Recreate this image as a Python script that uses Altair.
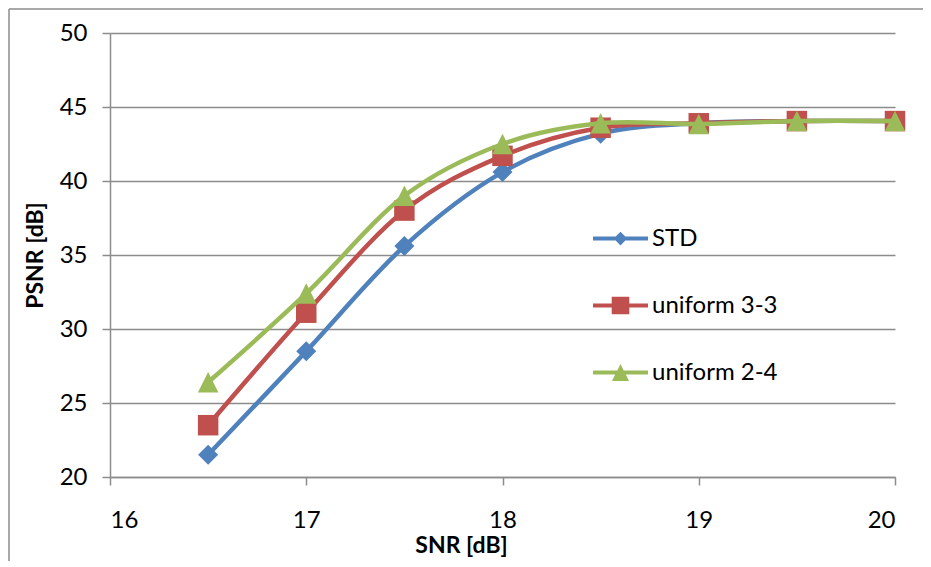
import altair as alt
import pandas as pd

# ---- data ----
snr = [16.5, 17, 17.5, 18, 18.5, 19, 19.5, 20]
std = [21.5, 28.5, 35.6, 40.6, 43.2, 43.9, 44.05, 44.05]
uniform_33 = [23.5, 31.1, 38.0, 41.7, 43.6, 43.9, 44.05, 44.05]
uniform_24 = [26.4, 32.4, 39.0, 42.5, 43.9, 43.85, 44.05, 44.05]
series_names = ["STD", "uniform 3-3", "uniform 2-4"]
x_ticks = [16, 17, 18, 19, 20]
y_ticks = [20, 25, 30, 35, 40, 45, 50]

# ---- styles ----
colors = ["#4F81BD", "#C0504D", "#9BBB59"]
marker_shapes = ["diamond", "square", "M0,-1L1,1L-1,1Z"]
marker_sizes = [400, 420, 420]
legend_shapes = [
    "M-1,-0.075L-0.175,-0.075L0,-0.25L0.175,-0.075L1,-0.075L1,0.075L0.175,0.075L0,0.25L-0.175,0.075L-1,0.075Z",
    "M-1,-0.075L-0.32,-0.075L-0.32,-0.32L0.32,-0.32L0.32,-0.075L1,-0.075L1,0.075L0.32,0.075L0.32,0.32L-0.32,0.32L-0.32,0.075L-1,0.075Z",
    "M-1,-0.075L-0.1175,-0.075L0,-0.31L0.1175,-0.075L1,-0.075L1,0.075L0.1925,0.075L0.31,0.31L-0.31,0.31L-0.1925,0.075L-1,0.075Z",
]
FONT = "Lato"
GRAY = "#8c8c8c"

rows = []
for name, vals in zip(series_names, [std, uniform_33, uniform_24]):
    for xv, yv in zip(snr, vals):
        rows.append({"series": name, "snr": xv, "psnr": yv})
df = pd.DataFrame(rows)

x_enc = alt.X(
    "snr:Q",
    scale=alt.Scale(domain=[16, 20], nice=False, zero=False),
    axis=alt.Axis(
        values=x_ticks, format="d", title="SNR [dB]", grid=False,
        labelPadding=23, titleX=351, titleY=68, titleBaseline="middle",
        titleAlign="center",
    ),
)
y_enc = alt.Y(
    "psnr:Q",
    scale=alt.Scale(domain=[20, 50], nice=False, zero=False),
    axis=alt.Axis(
        values=y_ticks, title="PSNR [dB]", grid=True, labelPadding=15,
        titleX=-75, titleY=222, titleAngle=270, titleBaseline="middle",
        titleAlign="center",
    ),
)

base = alt.Chart(df)

layers = []
for i, name in enumerate(series_names):
    sub = base.transform_filter(alt.datum.series == name)
    layers.append(
        sub.mark_line(color=colors[i], strokeWidth=4.5, interpolate="cardinal")
        .encode(x=x_enc, y=y_enc, order="snr:Q")
    )
    layers.append(
        sub.mark_point(filled=True, shape=marker_shapes[i], size=marker_sizes[i],
                       color=colors[i], opacity=1)
        .encode(x=x_enc, y=y_enc)
    )

leg = alt.Legend(
    title=None, orient="none", legendX=483, legendY=178,
    symbolSize=3025, symbolStrokeWidth=0, symbolOpacity=1,
    labelFont=FONT, labelFontSize=24,
    labelColor="black", labelOffset=4, rowPadding=27, padding=0, labelLimit=400,
)
legend_layer = base.transform_filter(alt.datum.snr > 1000).mark_point(
    filled=True, size=3025, opacity=1
).encode(
    x=x_enc, y=y_enc,
    color=alt.Color("series:N", scale=alt.Scale(domain=series_names, range=colors), legend=leg),
    shape=alt.Shape("series:N", scale=alt.Scale(domain=series_names, range=legend_shapes), legend=leg),
)

frame_df = pd.DataFrame({"k": [0]})
frame_left = alt.Chart(frame_df).mark_rule(color=GRAY, strokeWidth=1.5).encode(
    x=alt.value(-101), y=alt.value(-24), y2=alt.value(530)
)
frame_top = alt.Chart(frame_df).mark_rule(color=GRAY, strokeWidth=1.5).encode(
    x=alt.value(-101), x2=alt.value(830), y=alt.value(-24)
)

chart = alt.layer(frame_left, frame_top, *layers, legend_layer).properties(
    width=785, height=444,
    padding={"left": 102, "top": 25, "right": 28, "bottom": 84},
    autosize=alt.AutoSizeParams(type="none"),
).configure_view(stroke=None).configure_axis(
    labelFont=FONT, labelFontSize=24, labelColor="black",
    titleFont=FONT, titleFontSize=23, titleFontWeight="bold", titleColor="black",
    domainColor=GRAY, domainWidth=1.5, tickColor=GRAY, tickWidth=1.5, tickSize=8,
    gridColor=GRAY, gridWidth=1.5, gridOpacity=1,
)

chart.save("out.html", embed_options={"renderer": "svg", "actions": False})
